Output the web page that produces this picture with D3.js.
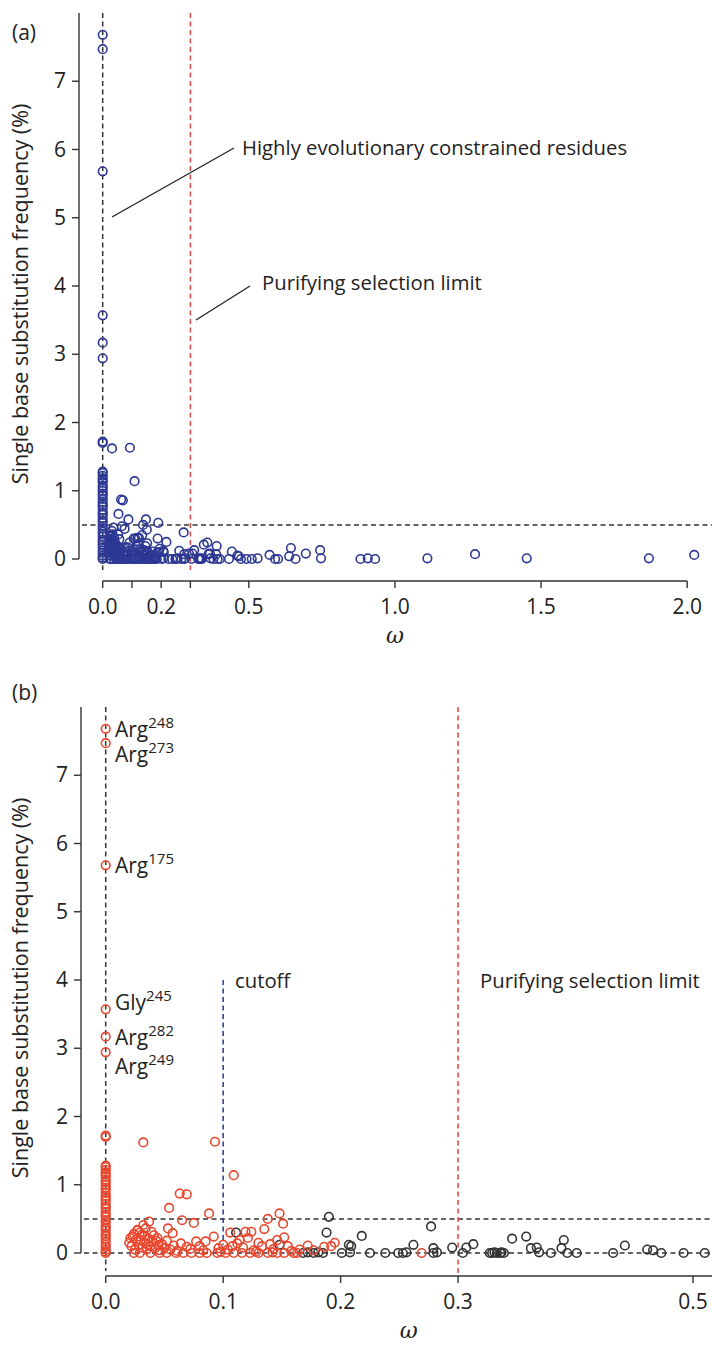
<!DOCTYPE html>
<html>
<head>
<meta charset="utf-8">
<script src="https://cdn.jsdelivr.net/npm/d3@7/dist/d3.min.js"></script>
<style>
  html, body { margin: 0; padding: 0; background: #fff; }
  svg { display: block; }
  text { font-family: "Open Sans", "Noto Sans", sans-serif; fill: #222; }
</style>
</head>
<body>
<svg id="chart" width="712" height="1345"></svg>
<script>
// ---- data ----

// residues with omega = 0 (the vertical column)
const zeroFreq = [7.68, 7.47, 5.68, 3.57, 3.17, 2.94, 1.72, 1.70,
  1.28, 1.26, 1.22, 1.18, 1.15, 1.12, 1.07, 1.04, 1.0, 0.96, 0.93, 0.88,
  0.84, 0.8, 0.77, 0.72, 0.68, 0.65, 0.6, 0.56, 0.53, 0.48, 0.45, 0.4,
  0.37, 0.33, 0.28, 0.25, 0.21, 0.17, 0.12, 0.09, 0.05, 0.02, 0];

// omega > 0, shown red in panel (b)
const redOmega = [0.032, 0.093, 0.109, 0.063, 0.069, 0.054, 0.088, 0.148, 0.065, 0.138,
  0.075, 0.151, 0.037, 0.032, 0.027, 0.053, 0.057, 0.021, 0.106, 0.119,
  0.124, 0.135, 0.152, 0.114, 0.077, 0.085, 0.092, 0.069, 0.045,
  0.020, 0.022, 0.024, 0.025, 0.026, 0.028, 0.029, 0.030, 0.031, 0.033,
  0.034, 0.035, 0.036, 0.038, 0.039, 0.040, 0.042, 0.044, 0.046, 0.048,
  0.050, 0.052, 0.055, 0.058, 0.061, 0.064, 0.072, 0.080, 0.083, 0.096,
  0.100, 0.104, 0.108, 0.112, 0.117, 0.121, 0.126, 0.130, 0.133, 0.140,
  0.143, 0.146, 0.155, 0.158, 0.165, 0.172, 0.177, 0.186, 0.192, 0.195,
  0.024, 0.029, 0.038, 0.046, 0.052, 0.060, 0.066, 0.073, 0.080, 0.086,
  0.095, 0.102, 0.109, 0.116, 0.123, 0.130, 0.138, 0.146, 0.152, 0.160,
  0.163, 0.269, 0.027, 0.034, 0.041, 0.098, 0.128, 0.142,
  0.023, 0.031, 0.036, 0.043];
const redFreq = [1.62, 1.63, 1.14, 0.87, 0.86, 0.66, 0.58, 0.58, 0.48, 0.50,
  0.44, 0.43, 0.46, 0.41, 0.34, 0.36, 0.29, 0.22, 0.30, 0.31,
  0.31, 0.35, 0.23, 0.19, 0.17, 0.17, 0.24, 0.09, 0.12,
  0.15, 0.10, 0.28, 0.05, 0.20, 0.12, 0.30, 0.18, 0.08, 0.25,
  0.14, 0.05, 0.21, 0.10, 0.31, 0.16, 0.07, 0.22, 0.04, 0.13,
  0.08, 0.18, 0.05, 0.11, 0.03, 0.14, 0.06, 0.10, 0.04, 0.07,
  0.12, 0.05, 0.10, 0.14, 0.08, 0.22, 0.04, 0.15, 0.10, 0.13,
  0.06, 0.19, 0.10, 0.03, 0.05, 0.11, 0.04, 0.09, 0.10, 0.15,
  0, 0, 0, 0, 0, 0, 0, 0, 0, 0,
  0, 0, 0, 0, 0, 0, 0, 0, 0, 0,
  0, 0, 0.33, 0.36, 0.26, 0.02, 0.02, 0.01,
  0.24, 0.27, 0.12, 0.18];

// omega > 0, shown black in panel (b)
const blackOmega = [0.111, 0.190, 0.188, 0.218, 0.277, 0.262, 0.279, 0.295, 0.307, 0.313,
  0.346, 0.207, 0.209, 0.148, 0.358, 0.362, 0.367, 0.369, 0.390, 0.388,
  0.442, 0.461, 0.466,
  0.168, 0.172, 0.177, 0.181, 0.185, 0.201, 0.208, 0.225, 0.238, 0.249,
  0.253, 0.256, 0.279, 0.282, 0.304, 0.329, 0.333, 0.337, 0.327, 0.331,
  0.336, 0.339, 0.379, 0.393, 0.401, 0.432, 0.473, 0.492, 0.510];
const blackFreq = [0.30, 0.53, 0.30, 0.25, 0.39, 0.12, 0.07, 0.08, 0.08, 0.13,
  0.21, 0.12, 0.10, 0.12, 0.24, 0.07, 0.08, 0.01, 0.19, 0.07,
  0.11, 0.05, 0.04,
  0, 0.01, 0, 0.01, 0, 0, 0.01, 0, 0, 0,
  0, 0.01, 0, 0.01, 0, 0, 0, 0.01, 0, 0.01,
  0, 0, 0, 0, 0, 0, 0, 0, 0];

// omega beyond panel (b)'s range, only seen in panel (a)
const farOmega = [0.530, 0.571, 0.590, 0.600, 0.638, 0.644, 0.660, 0.695, 0.744, 0.747,
  0.882, 0.907, 0.932, 1.111, 1.274, 1.451, 1.869, 2.024];
const farFreq = [0.01, 0.06, 0, 0, 0.04, 0.16, 0, 0.08, 0.13, 0.01,
  0, 0.01, 0, 0.01, 0.07, 0.01, 0.01, 0.06];

const yTicks = [0, 1, 2, 3, 4, 5, 6, 7];
const xTicksA = [0, 0.1, 0.2, 0.3, 0.5, 1.0, 1.5, 2.0];
const xLabelsA = [0, 0.2, 0.5, 1.0, 1.5, 2.0];
const xTicksB = [0, 0.1, 0.2, 0.3, 0.5];

const labelNames = ["Arg", "Arg", "Arg", "Gly", "Arg", "Arg"];
const labelSups = ["248", "273", "175", "245", "282", "249"];
const labelFreq = [7.68, 7.47, 5.68, 3.57, 3.17, 2.94];
const labelDy = [8, 19, 8, 1, 8, 22];

const BLUE = "#2c3893", RED = "#e8472e", REDLINE = "#e4504f", GREY = "#333";

const svg = d3.select("#chart");

function pts(om, fr) { return om.map((o, i) => [o, fr[i]]); }

const zeroPts = zeroFreq.map(f => [0, f]);
const redPts = pts(redOmega, redFreq);
const blackPts = pts(blackOmega, blackFreq);
const farPts = pts(farOmega, farFreq);

function drawPanel(c) {
  const g = svg.append("g");
  const x = d3.scaleLinear().domain(c.xDomain).range(c.xRange);
  const y = d3.scaleLinear().domain([0, 8]).range(c.yRange);

  // y axis: line from 0 up to 8, ticks 0..7
  g.append("line").attr("x1", c.yAxisX).attr("x2", c.yAxisX)
    .attr("y1", y(0)).attr("y2", y(8))
    .attr("stroke", GREY).attr("stroke-width", 1.4);
  g.selectAll(".yt").data(yTicks).enter().append("line")
    .attr("x1", c.yAxisX - 7).attr("x2", c.yAxisX)
    .attr("y1", d => y(d)).attr("y2", d => y(d))
    .attr("stroke", GREY).attr("stroke-width", 1.4);
  g.selectAll(".yl").data(yTicks).enter().append("text")
    .attr("x", c.yAxisX - 13).attr("y", d => y(d) + 7)
    .attr("text-anchor", "end").attr("font-size", 21)
    .text(d => d);

  // x axis
  const xEnd = c.xAxisEnd;
  g.append("line").attr("x1", x(0)).attr("x2", xEnd)
    .attr("y1", c.xAxisY).attr("y2", c.xAxisY)
    .attr("stroke", GREY).attr("stroke-width", 1.4);
  g.selectAll(".xt").data(c.xTicks).enter().append("line")
    .attr("x1", d => x(d)).attr("x2", d => x(d))
    .attr("y1", c.xAxisY).attr("y2", c.xAxisY + 7)
    .attr("stroke", GREY).attr("stroke-width", 1.4);
  g.selectAll(".xl").data(c.xLabels).enter().append("text")
    .attr("x", d => x(d)).attr("y", c.xAxisY + 33)
    .attr("text-anchor", "middle").attr("font-size", 21)
    .text(d => d3.format(".1f")(d));

  // axis titles
  g.append("text")
    .attr("transform", `translate(28,${(y(0) + y(8)) / 2 + 8}) rotate(-90)`)
    .attr("text-anchor", "middle").attr("font-size", 21.5)
    .text("Single base substitution frequency (%)");
  g.append("text")
    .attr("x", (x(0) + xEnd) / 2).attr("y", c.xAxisY + 62)
    .attr("text-anchor", "middle").attr("font-size", 22)
    .style("font-family", "'DejaVu Serif', serif").style("font-style", "italic")
    .text("ω");
  g.append("text").attr("x", 12).attr("y", c.tagY)
    .attr("font-size", 21).text(c.tag);

  // reference lines
  const dash = "5,3.5";
  g.append("line").attr("x1", c.yAxisX + 3).attr("x2", 712)
    .attr("y1", y(0.5)).attr("y2", y(0.5))
    .attr("stroke", GREY).attr("stroke-width", 1.5).attr("stroke-dasharray", dash);
  if (c.zeroLine) {
    g.append("line").attr("x1", c.yAxisX + 3).attr("x2", 712)
      .attr("y1", y(0)).attr("y2", y(0))
      .attr("stroke", GREY).attr("stroke-width", 1.5).attr("stroke-dasharray", dash);
  }
  g.append("line").attr("x1", x(0)).attr("x2", x(0))
    .attr("y1", y(8)).attr("y2", c.vBottom)
    .attr("stroke", GREY).attr("stroke-width", 1.5).attr("stroke-dasharray", dash);
  g.append("line").attr("x1", x(0.3)).attr("x2", x(0.3))
    .attr("y1", y(8)).attr("y2", c.redBottom)
    .attr("stroke", REDLINE).attr("stroke-width", 1.6).attr("stroke-dasharray", dash);

  // points
  const clipId = "clip" + c.tag.replace(/\W/g, "");
  svg.append("clipPath").attr("id", clipId).append("rect")
    .attr("x", c.yAxisX).attr("y", y(8) - 10).attr("width", 712 - c.yAxisX)
    .attr("height", y(0) - y(8) + 25);
  const pg = g.append("g").attr("clip-path", `url(#${clipId})`);
  c.layers.forEach(L => {
    pg.selectAll(null).data(L.data).enter().append("circle")
      .attr("cx", d => x(d[0])).attr("cy", d => y(d[1]))
      .attr("r", 4.3).attr("fill", "none")
      .attr("stroke", L.color).attr("stroke-width", 1.6);
  });
  return { g, x, y };
}

// ---- panel (a) ----
const A = drawPanel({
  tag: "(a)", tagY: 40,
  xDomain: [0, 2], xRange: [102.7, 687.2],
  yRange: [559, 13],
  yAxisX: 79, xAxisY: 581, xAxisEnd: 687.2,
  xTicks: xTicksA, xLabels: xLabelsA,
  vBottom: 570, redBottom: 570, zeroLine: false,
  layers: [{ data: zeroPts.concat(redPts, blackPts, farPts), color: BLUE }]
});
A.g.append("line").attr("x1", 112).attr("y1", 217).attr("x2", 234).attr("y2", 148)
  .attr("stroke", "#222").attr("stroke-width", 1.3);
A.g.append("text").attr("x", 242).attr("y", 155).attr("font-size", 20.3)
  .text("Highly evolutionary constrained residues");
A.g.append("line").attr("x1", 196).attr("y1", 320).attr("x2", 250).attr("y2", 286)
  .attr("stroke", "#222").attr("stroke-width", 1.3);
A.g.append("text").attr("x", 262).attr("y", 290).attr("font-size", 20.3)
  .text("Purifying selection limit");

// ---- panel (b) ----
const B = drawPanel({
  tag: "(b)", tagY: 700,
  xDomain: [0, 0.5], xRange: [105.7, 693],
  yRange: [1253, 707],
  yAxisX: 81, xAxisY: 1276, xAxisEnd: 712,
  xTicks: xTicksB, xLabels: xTicksB,
  vBottom: 1271, redBottom: 1276, zeroLine: true,
  layers: [{ data: blackPts, color: GREY }, { data: zeroPts.concat(redPts), color: RED }]
});
B.g.append("line").attr("x1", B.x(0.1)).attr("x2", B.x(0.1))
  .attr("y1", B.y(4)).attr("y2", B.y(0.12))
  .attr("stroke", BLUE).attr("stroke-width", 1.5).attr("stroke-dasharray", "5,3.5");
B.g.append("text").attr("x", 235).attr("y", 988).attr("font-size", 20.3).text("cutoff");
B.g.append("text").attr("x", 480).attr("y", 988).attr("font-size", 20.3)
  .text("Purifying selection limit");

labelNames.forEach((n, i) => {
  const t = B.g.append("text").attr("x", 115).attr("y", B.y(labelFreq[i]) + labelDy[i])
    .attr("font-size", 21);
  t.append("tspan").text(n);
  t.append("tspan").attr("dy", -9).attr("font-size", 15).text(labelSups[i]);
});
</script>
</body>
</html>
